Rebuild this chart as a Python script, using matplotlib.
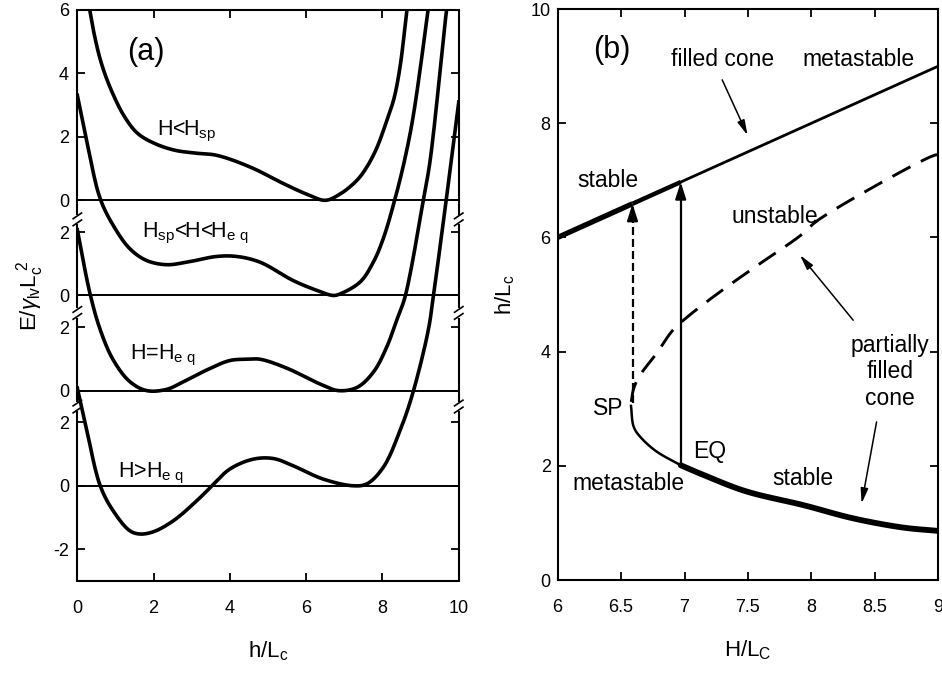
import numpy as np
import matplotlib.pyplot as plt

plt.rcParams['font.family'] = 'Liberation Sans'
plt.rcParams['mathtext.fontset'] = 'custom'
plt.rcParams['mathtext.rm'] = 'Liberation Sans'
plt.rcParams['mathtext.it'] = 'Liberation Sans:italic'
plt.rcParams['mathtext.bf'] = 'Liberation Sans:bold'

# ---- panel (a): energy curves E/(gamma L^2) vs h/Lc, one per H ----
x_sp_low = [0.28, 0.325, 0.456, 0.63, 0.89, 1.24, 1.59, 2.03, 2.55, 3.08, 3.65, 4.53,
            5.40, 6.0, 6.5, 6.89, 7.33, 7.59, 7.85, 8.11, 8.3, 8.46, 8.64, 8.7]
e_sp_low = [6.3, 6.0, 5.16, 4.32, 3.47, 2.63, 2.1, 1.79, 1.58, 1.49, 1.42, 1.05,
            0.53, 0.2, 0.0, 0.2, 0.63, 1.05, 1.65, 2.5, 3.2, 4.2, 6.0, 6.6]

x_mid = [0, 0.25, 0.6, 0.94, 1.38, 1.82, 2.34, 2.87, 3.65, 4.18, 4.79, 5.66, 6.28,
         6.71, 6.89, 7.41, 7.76, 8.02, 8.33, 8.59, 8.81, 9.2, 9.25]
e_mid = [6.31, 4.84, 3.05, 2.21, 1.47, 1.10, 0.97, 1.05, 1.23, 1.23, 1.05, 0.47, 0.16,
         0.0, 0.05, 0.42, 1.05, 1.79, 3.05, 4.32, 5.68, 9.04, 9.5]

x_eq = [0, 0.33, 0.6, 0.94, 1.38, 1.82, 2.34, 2.78, 3.39, 4.0, 4.44, 4.79, 5.49, 6.36,
        6.85, 7.33, 7.76, 8.11, 8.37, 8.59, 9.07, 9.25, 9.68, 9.75]
e_eq = [5.07, 3.07, 1.92, 0.97, 0.28, 0.0, 0.04, 0.28, 0.65, 0.95, 0.99, 0.99, 0.71,
        0.21, 0.0, 0.1, 0.58, 1.37, 2.21, 2.95, 6.0, 7.26, 12.0, 12.6]

x_high = [0, 0.25, 0.6, 0.94, 1.38, 1.64, 1.99, 2.52, 3.22, 3.57, 4.0, 4.61, 5.14,
          5.66, 6.45, 7.24, 7.59, 8.02, 8.46, 8.79, 9.2, 9.33, 9.67, 10]
e_high = [3.08, 1.74, 0.0, -0.79, -1.42, -1.52, -1.45, -1.1, -0.37, 0.05, 0.53, 0.84,
          0.86, 0.63, 0.21, 0.0, 0.06, 0.58, 1.74, 2.9, 4.9, 5.94, 9.0, 12.1]

curve_labels = [r'H<H$_{\rm sp}$', r'H$_{\rm sp}$<H<H$_{\rm e\ q}$',
                r'H=H$_{\rm e\ q}$', r'H>H$_{\rm e\ q}$']

# ---- panel (b): h/Lc vs H/Lc ----
filled_H = [6.0, 6.59, 6.97, 9.0]
filled_h = [6.0, 6.59, 6.97, 9.0]

unstable_H = [6.58, 6.6, 6.65, 6.78, 6.91, 7.04, 7.3, 7.6, 7.9, 8.07, 8.97, 9.0]
unstable_h = [3.12, 3.36, 3.59, 3.97, 4.38, 4.64, 5.08, 5.55, 6.01, 6.33, 7.44, 7.45]

partial_H = [6.578, 6.6, 6.65, 6.78, 6.97, 7.15, 7.49, 7.94, 8.33, 8.72, 9.0]
partial_h = [3.05, 2.68, 2.51, 2.25, 2.01, 1.84, 1.55, 1.31, 1.08, 0.92, 0.86]

H_sp, h_sp = 6.59, 3.1
H_eq, h_eq = 6.97, 2.0


def smooth(x, y, n=12):
    # centripetal catmull-rom through the read points
    p = np.column_stack([x, y]).astype(float)
    p = np.vstack([2 * p[0] - p[1], p, 2 * p[-1] - p[-2]])
    out = []
    for i in range(1, len(p) - 2):
        p0, p1, p2, p3 = p[i - 1], p[i], p[i + 1], p[i + 2]
        t0 = 0.0
        t1 = t0 + np.linalg.norm(p1 - p0) ** 0.5
        t2 = t1 + np.linalg.norm(p2 - p1) ** 0.5
        t3 = t2 + np.linalg.norm(p3 - p2) ** 0.5
        t = np.linspace(t1, t2, n, endpoint=False)[:, None]
        a1 = (t1 - t) / (t1 - t0) * p0 + (t - t0) / (t1 - t0) * p1
        a2 = (t2 - t) / (t2 - t1) * p1 + (t - t1) / (t2 - t1) * p2
        a3 = (t3 - t) / (t3 - t2) * p2 + (t - t2) / (t3 - t2) * p3
        b1 = (t2 - t) / (t2 - t0) * a1 + (t - t0) / (t2 - t0) * a2
        b2 = (t3 - t) / (t3 - t1) * a2 + (t - t1) / (t3 - t1) * a3
        out.append((t2 - t) / (t2 - t1) * b1 + (t - t1) / (t2 - t1) * b2)
    out.append(p[-2][None, :])
    out = np.vstack(out)
    return out[:, 0], out[:, 1]


fig = plt.figure(figsize=(9.42, 6.75), dpi=100)
ax1 = fig.add_axes([0.0821, 0.1393, 0.4049, 0.8459])
ax2 = fig.add_axes([0.592, 0.1407, 0.404, 0.8459])

# stacked curves, each shifted by 3 units
offsets = [9, 6, 3, 0]
curves = [(x_sp_low, e_sp_low), (x_mid, e_mid), (x_eq, e_eq), (x_high, e_high)]
for (x, e), off in zip(curves, offsets):
    ax1.axhline(off, color='k', lw=1.4)
    xs_, ys_ = smooth(x, np.array(e) + off)
    ax1.plot(xs_, ys_, color='k', lw=2.6, solid_joinstyle='round')

ax1.set_xlim(0, 10)
ax1.set_ylim(-3, 15)
ax1.set_xticks([0, 2, 4, 6, 8, 10])
ax1.set_yticks([-2, 0, 2, 3, 5, 6, 8, 9, 11, 13, 15])
ax1.set_yticklabels(['-2', '0', '2', '0', '2', '0', '2', '0', '2', '4', '6'])
ax1.tick_params(direction='in', top=True, right=True, length=6, width=1.3, labelsize=13)
ax1.tick_params(axis='x', pad=14)
ax1.tick_params(axis='y', pad=6)
for s in ['top', 'bottom']:
    ax1.spines[s].set_linewidth(1.5)
ax1.spines['left'].set_visible(False)
ax1.spines['right'].set_visible(False)

# broken side axes
breaks = [8.4, 5.45, 2.5]
edges = [-3] + sorted([b for br in breaks for b in (br - 0.15, br + 0.15)]) + [15]
for xs in (0, 10):
    for a, b in zip(edges[::2], edges[1::2]):
        ax1.plot([xs, xs], [a, b], color='k', lw=1.5, clip_on=False, solid_capstyle='butt')
    for br in breaks:
        for d in (-0.11, 0.11):
            ax1.plot([xs - 0.11, xs + 0.11], [br + d - 0.09, br + d + 0.09],
                     color='k', lw=1.2, clip_on=False)

ax1.text(1.79, 13.66, '(a)', fontsize=22, ha='center', va='center')
label_pos = [(2.09, 11.04), (1.70, 7.83), (1.38, 4.0), (1.07, 0.28)]
for (tx, ty), lab in zip(label_pos, curve_labels):
    ax1.text(tx, ty, lab, fontsize=15.5, ha='left', va='baseline')

ax1.set_xlabel(r'h/L$_{\rm c}$', fontsize=16, labelpad=16)
ax1.set_ylabel(r'E/$\gamma_{\rm lv}$L$_{\rm c}^{\ 2}$', fontsize=16, labelpad=5)

# panel (b)
ax2.plot(filled_H[:2], filled_h[:2], color='k', lw=3.8, solid_capstyle='butt')
ax2.plot(filled_H[1:3], filled_h[1:3], color='k', lw=3.2, solid_capstyle='butt')
ax2.plot(filled_H[2:], filled_h[2:], color='k', lw=2.0)

uH, uh = smooth(unstable_H, unstable_h)
ax2.plot(uH, uh, color='k', lw=2.1, ls=(0, (7, 4)))

i_eq = partial_H.index(6.97)
pH1, ph1 = smooth(partial_H[:i_eq + 1], partial_h[:i_eq + 1])
pH2, ph2 = smooth(partial_H[i_eq:], partial_h[i_eq:])
ax2.plot(pH1, ph1, color='k', lw=1.8)
ax2.plot(pH2, ph2, color='k', lw=4.2, solid_capstyle='round')

# jumps at spinodal and equilibrium
ax2.plot([H_sp, H_sp], [h_sp, H_sp - 0.25], color='k', lw=1.6, ls=(0, (3.6, 1.8)))
ax2.plot([H_eq, H_eq], [h_eq, H_eq - 0.25], color='k', lw=1.6)
head = dict(arrowstyle='-|>,head_length=0.5,head_width=0.16', color='k', lw=1.6,
            mutation_scale=20, shrinkA=0, shrinkB=0)
ax2.annotate('', xy=(H_sp, H_sp), xytext=(H_sp, H_sp - 0.3), arrowprops=head)
ax2.annotate('', xy=(H_eq, H_eq), xytext=(H_eq, H_eq - 0.3), arrowprops=head)

thin = dict(arrowstyle='-|>,head_length=0.6,head_width=0.15', color='k', lw=1.1,
            mutation_scale=15, shrinkA=0, shrinkB=0)
ax2.annotate('', xy=(7.497, 7.79), xytext=(7.297, 8.76), arrowprops=thin)
ax2.annotate('', xy=(7.91, 5.69), xytext=(8.33, 4.55), arrowprops=thin)
ax2.annotate('', xy=(8.396, 1.34), xytext=(8.514, 2.77), arrowprops=thin)

fs = 16.5
ax2.text(6.426, 9.28, '(b)', fontsize=22, ha='center', va='center')
ax2.text(7.30, 9.11, 'filled cone', fontsize=fs, ha='center', va='center')
ax2.text(8.37, 9.11, 'metastable', fontsize=fs, ha='center', va='center')
ax2.text(6.40, 7.0, 'stable', fontsize=fs, ha='center', va='center')
ax2.text(7.71, 6.36, 'unstable', fontsize=fs, ha='center', va='center')
ax2.text(8.62, 3.65, 'partially\nfilled\ncone', fontsize=fs, ha='center', va='center',
         linespacing=1.2)
ax2.text(6.40, 3.01, 'SP', fontsize=fs, ha='center', va='center')
ax2.text(7.20, 2.25, 'EQ', fontsize=fs, ha='center', va='center')
ax2.text(6.556, 1.69, 'metastable', fontsize=fs, ha='center', va='center')
ax2.text(7.935, 1.78, 'stable', fontsize=fs, ha='center', va='center')

ax2.set_xlim(6, 9)
ax2.set_ylim(0, 10)
ax2.set_xticks([6, 6.5, 7, 7.5, 8, 8.5, 9])
ax2.set_xticklabels(['6', '6.5', '7', '7.5', '8', '8.5', '9'])
ax2.set_yticks([0, 2, 4, 6, 8, 10])
ax2.tick_params(direction='in', top=True, right=True, length=6, width=1.3, labelsize=13)
ax2.tick_params(axis='x', pad=14)
ax2.tick_params(axis='y', pad=5)
for s in ax2.spines.values():
    s.set_linewidth(1.5)
ax2.set_xlabel(r'H/L$_{\rm C}$', fontsize=16, labelpad=16)
ax2.set_ylabel(r'h/L$_{\rm c}$', fontsize=16, labelpad=10)

fig.savefig('out.png', dpi=100)
